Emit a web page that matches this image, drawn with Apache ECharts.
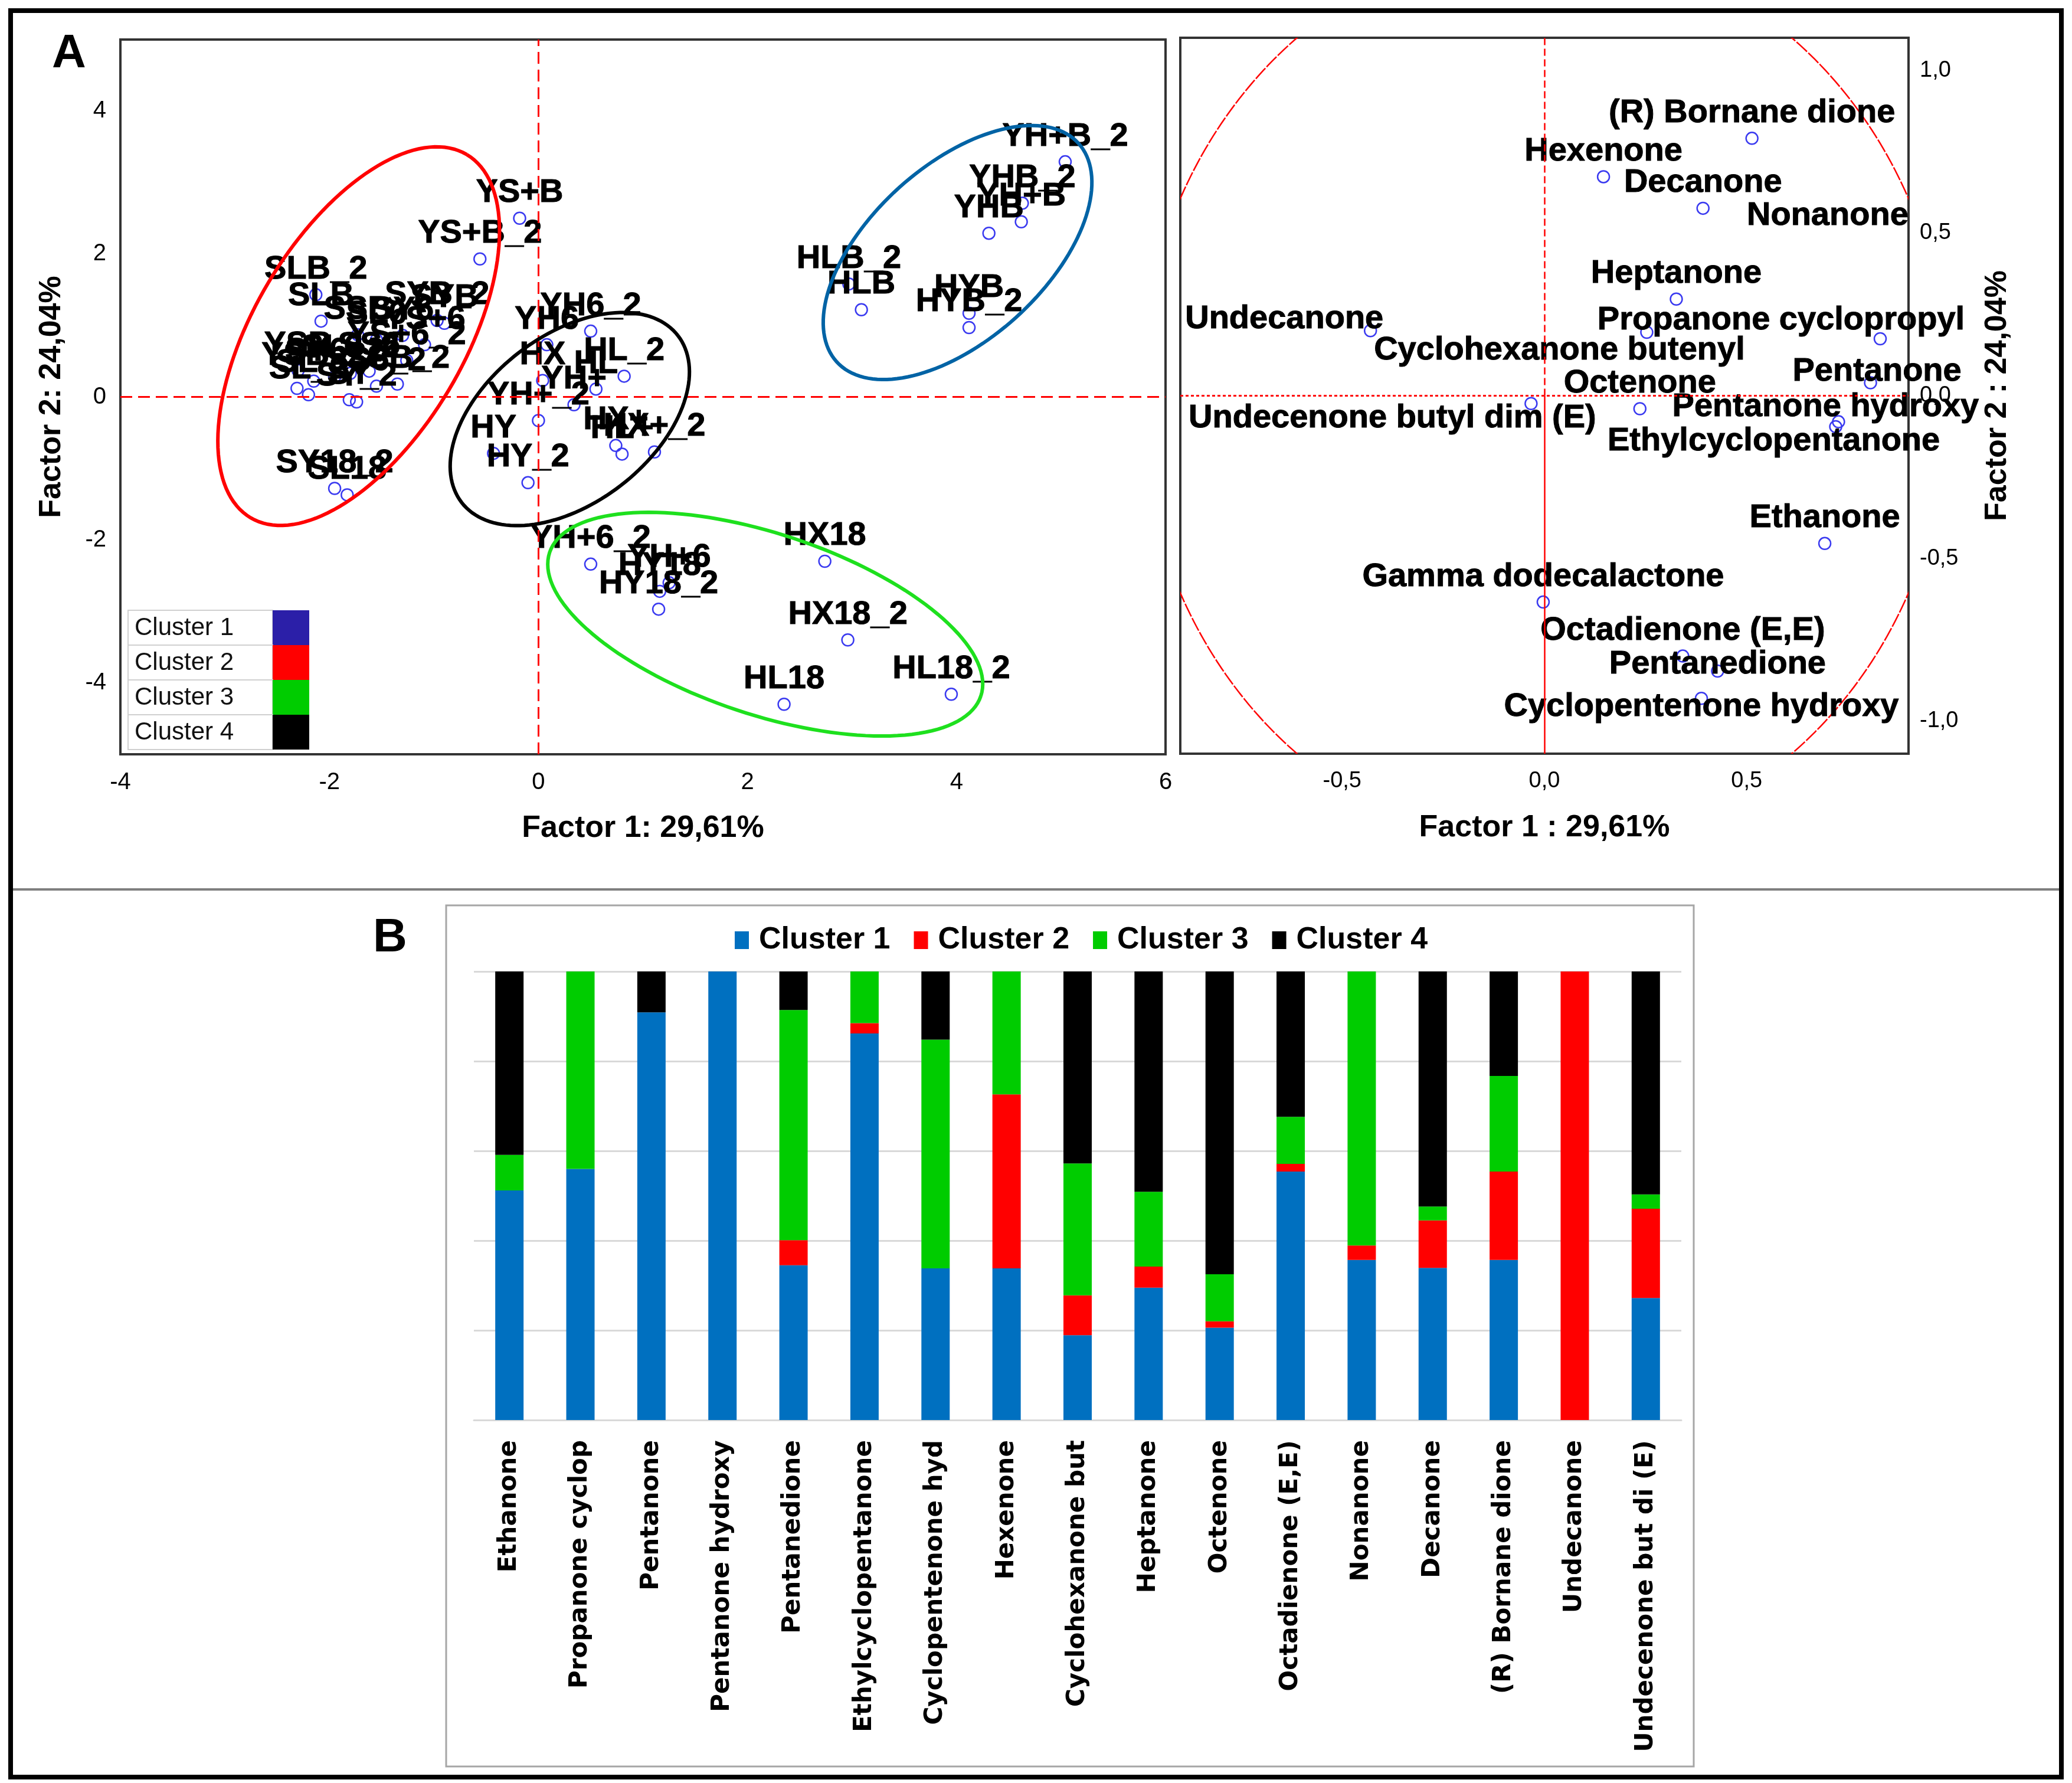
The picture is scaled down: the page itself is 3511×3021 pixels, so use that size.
<!DOCTYPE html>
<html><head><meta charset="utf-8">
<script src="https://cdn.jsdelivr.net/npm/echarts@6/dist/echarts.min.js"></script>
<style>html,body{margin:0;padding:0;background:#fff}#c{width:3511px;height:3021px}</style>
</head><body><div id="c"></div>
<script>
// ---------- Panel A (left): observation scores ----------
const obsNames = ['YS+B','YS+B_2','SLB_2','SLB','SYB','SYB_2','SSB','SL6','SY6','YS+6','YS+6_2','SSB_2','YSB','YSB_2','SY6_2','SL6_2','SS6','SS6_2','SL','SL_2','SY','SY_2','SY18_2','SL18',
  'YH6_2','YH6','HX','HL','HL_2','YH+','YH+_2','HY','HY_2','HX+','HL+','HX+_2',
  'YH+6_2','YH+6','HY18','HY18_2','HX18','HX18_2','HL18','HL18_2',
  'YH+B_2','YHB_2','YH+B','YHB','HLB_2','HLB','HYB','HYB_2'];
const obsF1 = [-0.18,-0.56,-2.13,-2.08,-0.90,-0.97,-1.73,-1.55,-1.30,-1.09,-1.26,-1.35,-2.30,-2.15,-1.95,-1.80,-1.62,-1.55,-2.31,-2.20,-1.81,-1.74,-1.95,-1.83,
  0.50,0.08,0.04,0.55,0.82,0.34,0.00,-0.43,-0.10,0.74,0.80,1.11,
  0.50,1.25,1.16,1.15,2.74,2.96,2.35,3.95,
  5.04,4.63,4.62,4.31,2.97,3.09,4.12,4.12];
const obsF2 = [2.50,1.93,1.43,1.06,1.03,1.07,0.87,0.80,0.86,0.73,0.51,0.18,0.37,0.22,0.28,0.33,0.36,0.15,0.12,0.03,-0.04,-0.07,-1.28,-1.37,
  0.92,0.73,0.23,0.11,0.29,-0.11,-0.33,-0.79,-1.20,-0.68,-0.80,-0.77,
  -2.34,-2.60,-2.72,-2.97,-2.30,-3.40,-4.30,-4.16,
  3.29,2.71,2.45,2.29,1.58,1.22,1.17,0.97];
// cluster ellipses: [centerF1, centerF2, axis1 dF1, axis1 dF2, axis2 dF1, axis2 dF2]
const clusterEllipses = [
  [-1.72, 0.85, 1.035, 2.54, -0.863, 0.752],   // Cluster 2 (red)
  [0.30, -0.31, 1.035, 1.167, -0.489, 0.928],  // Cluster 4 (black)
  [4.01, 2.02, 1.157, 1.528, -0.56, 0.907],    // Cluster 1 (blue)
  [2.17, -3.18, 2.063, -1.004, 0.273, 1.2]     // Cluster 3 (green)
];
const ellipseColors = ['#FF0000', '#000000', '#0063A5', '#1EE01E'];
const scoreLegendNames = ['Cluster 1','Cluster 2','Cluster 3','Cluster 4'];
const scoreLegendColors = ['#2B1FA8','#FF0000','#00CC00','#000000'];

// ---------- Panel A (right): variable loadings ----------
const varNames = ['(R) Bornane dione','Hexenone','Decanone','Nonanone','Heptanone','Undecanone','Propanone cyclopropyl','Cyclohexanone butenyl','Pentanone','Octenone','Undecenone butyl dim (E)','Pentanone hydroxy','Ethylcyclopentanone','Ethanone','Gamma dodecalactone','Octadienone (E,E)','Pentanedione','Cyclopentenone hydroxy'];
const varF1 = [0.513,0.146,0.392,0.70,0.326,-0.43,0.83,0.253,0.806,0.236,-0.033,0.727,0.72,0.693,-0.003,0.342,0.428,0.388];
const varF2 = [0.791,0.673,0.576,0.475,0.297,0.20,0.175,0.195,0.04,-0.04,-0.024,-0.08,-0.095,-0.454,-0.634,-0.80,-0.846,-0.93];
// correlation circle as drawn in the figure (radius along Factor 1, along Factor 2)
const circleRadii = [1.0, 1.39];
// label placement (pixels) where the label does not sit straight above its point
const varLabelOffsets = {
  'Undecanone': [-146, -20], 'Propanone cyclopropyl': [-168, -31], 'Cyclohexanone butenyl': [-148, 31],
  'Pentanone': [11, -19], 'Undecenone butyl dim (E)': [-235, 25], 'Pentanone hydroxy': [-22, -25],
  'Ethylcyclopentanone': [-105, 25], 'Pentanedione': [0, -11], 'Cyclopentenone hydroxy': [0, 14]
};
const hiddenVarPoints = ['Nonanone'];

// ---------- Panel B: stacked bars (%) ----------
const barCategories = ['Ethanone','Propanone cyclop','Pentanone','Pentanone hydroxy','Pentanedione','Ethylcyclopentanone','Cyclopentenone hyd','Hexenone','Cyclohexanone but','Heptanone','Octenone','Octadienone (E,E)','Nonanone','Decanone','(R) Bornane dione','Undecanone','Undecenone but di (E)'];
const cluster1 = [51.2,56.0,90.9,100,34.5,86.2,33.8,33.8,18.9,29.5,20.6,55.4,35.7,33.9,35.7,0,27.2];
const cluster2 = [0,0,0,0,5.6,2.3,0,38.8,8.9,4.7,1.4,1.7,3.2,10.6,19.7,100,19.9];
const cluster3 = [7.9,44.0,0,0,51.3,11.5,51.0,27.4,29.4,16.7,10.5,10.5,61.1,3.1,21.3,0,3.2];
const cluster4 = [40.9,0,9.1,0,8.6,0,15.2,0,42.8,49.1,67.5,32.4,0,52.4,23.3,0,49.7];
const barColors = ['#0070C0','#FF0000','#00CC00','#000000'];

const FONT = 'Liberation Sans, Arial, sans-serif';
const NARROW = 'Liberation Sans Narrow, Liberation Sans, sans-serif';
const comma = v => (Math.abs(v) < 1e-9 ? 0 : v).toFixed(1).replace('.', ',');

const chart = echarts.init(document.getElementById('c'), null, {renderer: 'canvas'});

const obsData = obsNames.map((n, i) => ({name: n, value: [obsF1[i], obsF2[i]]}));
const varData = varNames.map((n, i) => {
  const item = {name: n, value: [varF1[i], varF2[i]]};
  const off = varLabelOffsets[n] || [0, -43];
  item.label = {offset: off};
  if (hiddenVarPoints.indexOf(n) >= 0) item.itemStyle = {borderColor: 'rgba(0,0,0,0)'};
  return item;
});

function ellipseItem(params, api) {
  const e = clusterEllipses[params.dataIndex];
  const pts = [];
  for (let k = 0; k <= 144; k++) {
    const t = k / 144 * Math.PI * 2;
    pts.push(api.coord([e[0] + e[2] * Math.cos(t) + e[4] * Math.sin(t), e[1] + e[3] * Math.cos(t) + e[5] * Math.sin(t)]));
  }
  return {type: 'polyline', shape: {points: pts}, style: {fill: null, stroke: ellipseColors[params.dataIndex], lineWidth: 6}};
}
function circleItem(params, api) {
  const pts = [];
  for (let k = 0; k <= 360; k++) {
    const t = k / 360 * Math.PI * 2;
    pts.push(api.coord([circleRadii[0] * Math.cos(t), circleRadii[1] * Math.sin(t)]));
  }
  return {type: 'polyline', shape: {points: pts}, style: {fill: null, stroke: '#FF0000', lineWidth: 2.5, lineDash: [24, 3]}};
}

const graphics = [
  {type: 'rect', shape: {x: 18, y: 18, width: 3475, height: 2993}, style: {fill: null, stroke: '#000', lineWidth: 8}, z: 100},
  {type: 'line', shape: {x1: 18, y1: 1507, x2: 3493, y2: 1507}, style: {stroke: '#7F7F7F', lineWidth: 4}},
  {type: 'rect', shape: {x: 756, y: 1534, width: 2114, height: 1459}, style: {fill: null, stroke: '#A6A6A6', lineWidth: 3}},
  {type: 'text', left: 88, top: 52, style: {text: 'A', font: 'bold 80px ' + FONT, fill: '#000'}},
  {type: 'text', left: 632, top: 1550, style: {text: 'B', font: 'bold 80px ' + FONT, fill: '#000'}}
];
scoreLegendNames.forEach((n, i) => {
  const y = 1034 + i * 59;
  graphics.push({type: 'rect', shape: {x: 217, y: y, width: 245, height: 59}, style: {fill: '#fff', stroke: '#D0D0D0', lineWidth: 2}, z: 50});
  graphics.push({type: 'rect', shape: {x: 462, y: y, width: 62, height: 59}, style: {fill: scoreLegendColors[i], stroke: null}, z: 50});
  graphics.push({type: 'text', x: 228, y: y + 30, style: {text: n, font: '42px ' + FONT, fill: '#111', textVerticalAlign: 'middle'}, z: 51});
});

const labelBase = {show: true, position: 'inside', formatter: p => p.name, fontSize: 56, fontWeight: 'bold',
  color: 'rgb(0,0,0)', opacity: 1, fontFamily: FONT, textBorderWidth: 1, textBorderColor: 'rgb(0,0,0)', textShadowBlur: 0};

const option = {
  backgroundColor: '#fff',
  animation: false,
  textStyle: {fontFamily: FONT},
  grid: [
    {left: 204, top: 67, width: 1771, height: 1211, show: true, borderColor: '#333', borderWidth: 4, backgroundColor: 'transparent'},
    {left: 2000, top: 64, width: 1234, height: 1213, show: true, borderColor: '#333', borderWidth: 4, backgroundColor: 'transparent'},
    {left: 803, top: 1646, width: 2046, height: 760}
  ],
  xAxis: [
    {type: 'value', gridIndex: 0, min: -4, max: 6, interval: 2, axisLine: {show: false}, axisTick: {show: false}, splitLine: {show: false},
     axisLabel: {fontSize: 40, color: '#000', margin: 28, fontFamily: FONT},
     name: 'Factor 1: 29,61%', nameLocation: 'middle', nameGap: 100, nameTextStyle: {fontSize: 52, fontWeight: 'bold', color: '#000', fontFamily: FONT}},
    {type: 'value', gridIndex: 1, min: -0.9, max: 0.9, axisLine: {show: false}, axisTick: {show: false}, splitLine: {show: false},
     axisLabel: {fontSize: 38, color: '#000', margin: 28, fontFamily: NARROW, customValues: [-0.5, 0, 0.5], formatter: comma},
     name: 'Factor 1 : 29,61%', nameLocation: 'middle', nameGap: 100, nameTextStyle: {fontSize: 52, fontWeight: 'bold', color: '#000', fontFamily: FONT}},
    {type: 'category', gridIndex: 2, data: barCategories, axisTick: {show: false},
     axisLine: {lineStyle: {color: '#D9D9D9', width: 3}},
     axisLabel: {rotate: 90, interval: 0, fontSize: 42, fontWeight: 'bold', color: '#000', margin: 34, fontFamily: 'DejaVu Sans, sans-serif'}}
  ],
  yAxis: [
    {type: 'value', gridIndex: 0, min: -5, max: 5, axisLine: {show: false}, axisTick: {show: false}, splitLine: {show: false},
     axisLabel: {fontSize: 40, color: '#000', margin: 24, fontFamily: FONT, customValues: [-4, -2, 0, 2, 4]},
     name: 'Factor 2: 24,04%', nameLocation: 'middle', nameGap: 90, nameRotate: 90, nameTextStyle: {fontSize: 52, fontWeight: 'bold', color: '#000', fontFamily: FONT}},
    {type: 'value', gridIndex: 1, position: 'right', min: -1.1, max: 1.1, axisLine: {show: false}, axisTick: {show: false}, splitLine: {show: false},
     axisLabel: {fontSize: 38, color: '#000', margin: 19, fontFamily: NARROW, customValues: [-1, -0.5, 0, 0.5, 1], formatter: comma},
     name: 'Factor 2 : 24,04%', nameLocation: 'middle', nameGap: 125, nameRotate: 90, nameTextStyle: {fontSize: 52, fontWeight: 'bold', color: '#000', fontFamily: FONT}},
    {type: 'value', gridIndex: 2, min: 0, max: 100, interval: 20, axisLine: {show: false}, axisTick: {show: false}, axisLabel: {show: false},
     splitLine: {lineStyle: {color: '#D9D9D9', width: 3}}}
  ],
  legend: {
    data: ['Cluster 1', 'Cluster 2', 'Cluster 3', 'Cluster 4'], top: 1562, left: 1240, icon: 'rect',
    itemWidth: 24, itemHeight: 30, itemGap: 40,
    textStyle: {fontSize: 52, fontWeight: 'bold', color: '#000', fontFamily: FONT, padding: [0, 0, 0, 12]}
  },
  graphic: graphics,
  series: [
    {type: 'scatter', xAxisIndex: 0, yAxisIndex: 0, data: obsData, symbol: 'circle', symbolSize: 20, z: 2,
     itemStyle: {color: 'rgba(255,255,255,0)', borderColor: '#3A3AF0', borderWidth: 2.5, opacity: 1},
     label: Object.assign({}, labelBase, {offset: [0, -43]}),
     markLine: {silent: true, symbol: 'none', label: {show: false},
       lineStyle: {color: '#FF0000', type: [20, 10], width: 3},
       data: [{xAxis: 0}, {yAxis: 0}]}},
    {type: 'custom', xAxisIndex: 0, yAxisIndex: 0, renderItem: ellipseItem, data: clusterEllipses.map(e => [e[0], e[1]]), z: 5, silent: true},
    {type: 'custom', xAxisIndex: 1, yAxisIndex: 1, renderItem: circleItem, data: [[0, 0]], clip: true, z: 1, silent: true},
    {type: 'scatter', xAxisIndex: 1, yAxisIndex: 1, data: varData, symbol: 'circle', symbolSize: 20, z: 3,
     itemStyle: {color: 'rgba(255,255,255,0)', borderColor: '#3A3AF0', borderWidth: 2.5, opacity: 1},
     label: labelBase,
     markLine: {silent: true, symbol: 'none', label: {show: false},
       data: [
         {yAxis: 0, lineStyle: {color: '#FF0000', type: [5, 4], width: 3}},
         [{coord: [0, 0], lineStyle: {color: '#FF0000', type: [12, 6], width: 2.5}}, {coord: [0, 1.1]}],
         [{coord: [0, -1.1], lineStyle: {color: '#FF0000', type: 'solid', width: 2.5}}, {coord: [0, 0]}]
       ]}},
    {name: 'Cluster 1', type: 'bar', stack: 'c', xAxisIndex: 2, yAxisIndex: 2, data: cluster1, barWidth: 48, itemStyle: {color: barColors[0]}},
    {name: 'Cluster 2', type: 'bar', stack: 'c', xAxisIndex: 2, yAxisIndex: 2, data: cluster2, barWidth: 48, itemStyle: {color: barColors[1]}},
    {name: 'Cluster 3', type: 'bar', stack: 'c', xAxisIndex: 2, yAxisIndex: 2, data: cluster3, barWidth: 48, itemStyle: {color: barColors[2]}},
    {name: 'Cluster 4', type: 'bar', stack: 'c', xAxisIndex: 2, yAxisIndex: 2, data: cluster4, barWidth: 48, itemStyle: {color: barColors[3]}}
  ]
};
chart.setOption(option);
</script>
</body></html>
